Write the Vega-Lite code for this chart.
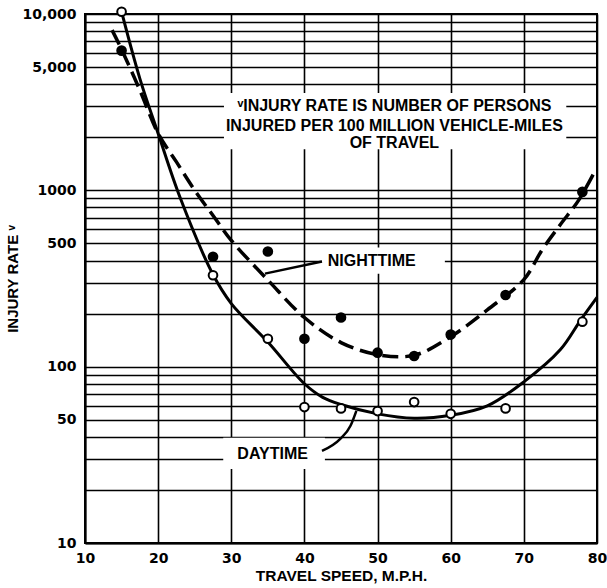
{
  "$schema": "https://vega.github.io/schema/vega-lite/v6.json",
  "width": 512,
  "height": 529,
  "autosize": {"type": "none"},
  "padding": {"left": 85, "top": 14, "right": 10, "bottom": 45},
  "background": "white",
  "config": {"view": {"stroke": "black", "strokeWidth": 2}, "font": "Liberation Sans"},
  "datasets": {
    "boxes": [
      {"x": 29, "x2": 75.8, "y": 3560, "y2": 1710},
      {"x": 42.4, "x2": 59.2, "y": 474, "y2": 337},
      {"x": 28.9, "x2": 42.8, "y": 39.5, "y2": 26.3}
    ],
    "night_curve": [
      {"x": 13.7, "y": 8100}, {"x": 15, "y": 6300}, {"x": 17.5, "y": 3700}, {"x": 20, "y": 2100},
      {"x": 22.5, "y": 1450}, {"x": 25, "y": 1000}, {"x": 27.5, "y": 720}, {"x": 30, "y": 520},
      {"x": 35, "y": 310}, {"x": 40, "y": 190}, {"x": 45, "y": 137}, {"x": 50, "y": 117},
      {"x": 55, "y": 116}, {"x": 60, "y": 148}, {"x": 65, "y": 210}, {"x": 70, "y": 312},
      {"x": 72.5, "y": 460}, {"x": 75, "y": 640}, {"x": 77.5, "y": 880}, {"x": 79.7, "y": 1280}
    ],
    "day_curve": [
      {"x": 15, "y": 10300}, {"x": 17.5, "y": 4300}, {"x": 20, "y": 2100}, {"x": 23, "y": 910},
      {"x": 27.5, "y": 333}, {"x": 30, "y": 228}, {"x": 35, "y": 138}, {"x": 40, "y": 80},
      {"x": 42.5, "y": 67}, {"x": 45, "y": 61}, {"x": 50, "y": 54}, {"x": 55, "y": 51},
      {"x": 60, "y": 53}, {"x": 65, "y": 60}, {"x": 70, "y": 82}, {"x": 75, "y": 125},
      {"x": 77.7, "y": 182}, {"x": 80, "y": 247}
    ],
    "points": [
      {"x": 15, "y": 6200, "series": "night"}, {"x": 27.5, "y": 420, "series": "night"},
      {"x": 35, "y": 450, "series": "night"}, {"x": 40, "y": 144, "series": "night"},
      {"x": 45, "y": 190, "series": "night"}, {"x": 50, "y": 120, "series": "night"},
      {"x": 55, "y": 115, "series": "night"}, {"x": 60, "y": 152, "series": "night"},
      {"x": 67.5, "y": 255, "series": "night"}, {"x": 78, "y": 980, "series": "night"},
      {"x": 15, "y": 10300, "series": "day"}, {"x": 27.5, "y": 330, "series": "day"},
      {"x": 35, "y": 144, "series": "day"}, {"x": 40, "y": 59, "series": "day"},
      {"x": 45, "y": 58, "series": "day"}, {"x": 50, "y": 56, "series": "day"},
      {"x": 55, "y": 63, "series": "day"}, {"x": 60, "y": 54, "series": "day"},
      {"x": 67.5, "y": 58, "series": "day"}, {"x": 78, "y": 180, "series": "day"}
    ],
    "night_pointer": [{"x": 42.4, "y": 395, "x2": 34.6, "y2": 337}],
    "day_pointer": [
      {"x": 42.4, "y": 33.3}, {"x": 44.9, "y": 39}, {"x": 46.3, "y": 46.2}, {"x": 47.1, "y": 56.2}
    ],
    "labels": [
      {"x": 52.3, "y": 3000, "text": "ᵛINJURY RATE IS NUMBER OF PERSONS"},
      {"x": 52.3, "y": 2326, "text": "INJURED PER 100 MILLION VEHICLE-MILES"},
      {"x": 52.3, "y": 1858, "text": "OF TRAVEL"},
      {"x": 49.2, "y": 395, "text": "NIGHTTIME"},
      {"x": 35.65, "y": 32.1, "text": "DAYTIME"}
    ]
  },
  "encoding": {
    "x": {
      "field": "x", "type": "quantitative",
      "scale": {"domain": [10, 80], "nice": false, "zero": false},
      "axis": {
        "values": [10, 20, 30, 40, 50, 60, 70, 80],
        "title": "TRAVEL SPEED, M.P.H.",
        "grid": true, "ticks": false,
        "labelFont": "DejaVu Sans", "labelFontWeight": "bold", "labelFontSize": 14,
        "labelPadding": 8, "labelColor": "black", "labelFlush": false, "labelOverlap": false,
        "titleFont": "Liberation Sans", "titleFontWeight": "bold", "titleFontSize": 15.5,
        "titlePadding": 3, "titleColor": "black",
        "gridColor": "black", "gridWidth": 1.6, "gridOpacity": 1,
        "domainColor": "black", "domainWidth": 2
      }
    },
    "y": {
      "field": "y", "type": "quantitative",
      "scale": {"type": "log", "domain": [10, 10000], "nice": false},
      "axis": {
        "values": [10, 20, 30, 40, 50, 60, 70, 80, 90, 100, 200, 300, 400, 500, 600, 700, 800, 900, 1000, 2000, 3000, 4000, 5000, 6000, 7000, 8000, 9000, 10000],
        "labelExpr": "datum.value == 10000 ? '10,000' : datum.value == 5000 ? '5,000' : datum.value == 1000 ? '1000' : datum.value == 500 ? '500' : datum.value == 100 ? '100' : datum.value == 50 ? '50' : datum.value == 10 ? '10' : ''",
        "title": "INJURY RATE ᵛ",
        "grid": true, "ticks": false,
        "labelFont": "DejaVu Sans", "labelFontWeight": "bold", "labelFontSize": 14,
        "labelPadding": 9, "labelColor": "black", "labelFlush": false, "labelOverlap": false,
        "titleFont": "Liberation Sans", "titleFontWeight": "bold", "titleFontSize": 15,
        "titlePadding": 1, "titleColor": "black",
        "gridColor": "black", "gridWidth": 1.6, "gridOpacity": 1,
        "domainColor": "black", "domainWidth": 2
      }
    }
  },
  "layer": [
    {
      "data": {"name": "boxes"},
      "mark": {"type": "rect", "fill": "white", "stroke": null},
      "encoding": {"x2": {"field": "x2"}, "y2": {"field": "y2"}}
    },
    {
      "data": {"name": "night_curve"},
      "mark": {"type": "line", "color": "black", "strokeWidth": 3.5, "strokeDash": [16, 7], "interpolate": "catmull-rom"},
      "encoding": {}
    },
    {
      "data": {"name": "day_curve"},
      "mark": {"type": "line", "color": "black", "strokeWidth": 3, "interpolate": "catmull-rom"},
      "encoding": {}
    },
    {
      "data": {"name": "night_pointer"},
      "mark": {"type": "rule", "color": "black", "strokeWidth": 2.5},
      "encoding": {"x2": {"field": "x2"}, "y2": {"field": "y2"}}
    },
    {
      "data": {"name": "day_pointer"},
      "mark": {"type": "line", "color": "black", "strokeWidth": 2.5, "interpolate": "monotone"},
      "encoding": {}
    },
    {
      "data": {"name": "points"},
      "mark": {"type": "point", "filled": true, "stroke": "black", "strokeWidth": 2, "size": 75, "opacity": 1},
      "encoding": {
        "fill": {"field": "series", "type": "nominal", "scale": {"domain": ["night", "day"], "range": ["black", "white"]}, "legend": null}
      }
    },
    {
      "data": {"name": "labels"},
      "mark": {"type": "text", "font": "Liberation Sans", "fontWeight": "bold", "fontSize": 16, "align": "center", "baseline": "middle", "color": "black"},
      "encoding": {"text": {"field": "text"}}
    }
  ]
}
